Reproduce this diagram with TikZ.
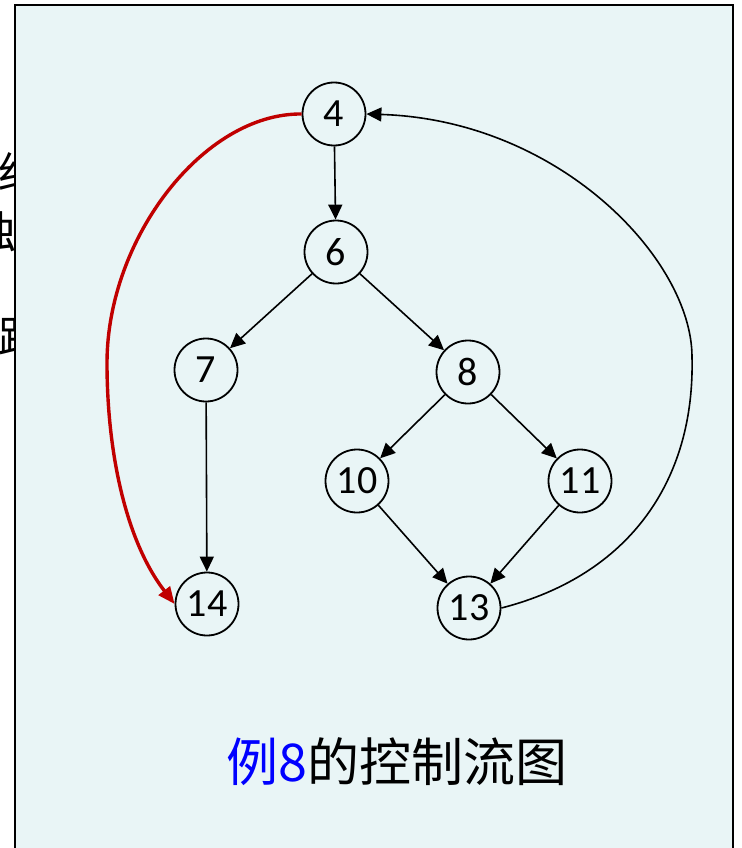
\documentclass[tikz,border=0pt]{standalone}
\usepackage{fontspec}
\setmainfont{Carlito}
\newfontfamily\cjk{Noto Sans CJK SC}
\usetikzlibrary{positioning,arrows.meta}
\definecolor{panelbg}{RGB}{233,245,246}
\definecolor{backred}{RGB}{192,0,0}
\definecolor{capblue}{RGB}{0,0,255}
\begin{document}
\begin{tikzpicture}[x=1pt,y=-1pt]
                    \tikzstyle{every node}=[inner sep=0]
                    \tikzstyle{block}=[draw,circle,minimum size=63,line width=1.8,font=\fontsize{40}{42}\selectfont]
                    \tikzstyle{flow}=[-{Triangle[length=15pt,width=14pt]},line width=1.6]
                    \tikzstyle{cut}=[font=\cjk\fontsize{44}{48}\selectfont]
                    \useasboundingbox (0,0) rectangle (741,848);
                    {
                        % text left over behind the panel
                        \node[cut,anchor=west] (line1) at (-2,172) {经};
                        \node[cut,anchor=east] (line2) at (17,232) {独};
                        \node[cut,anchor=west] (line3) at (-2,337) {路};

                        \draw[fill=panelbg,line width=2] (15,5) rectangle (733,870);

                        \node[block] (n4) at (334,114) {4};
                        \node[block] (n6) at (336,252) {6};
                        \node[block] (n7) at (206,370) {7};
                        \node[block] (n8) at (468,372) {8};
                        \node[block] (n10) at (357,481) {10};
                        \node[block] (n11) at (580,481) {11};
                        \node[block] (n13) at (469,608) {13};
                        \node[block] (n14) at (207,604) {14};

                        \path[flow]
                            (n4) edge (n6)
                            (n6) edge (n7)
                            (n6) edge (n8)
                            (n7) edge (n14)
                            (n8) edge (n10)
                            (n8) edge (n11)
                            (n10) edge (n13)
                            (n11) edge (n13);

                        \draw[flow] (n13.east) .. controls (630,575) and (695,480) .. (692,357)
                            .. controls (692,260) and (560,120) .. (n4.east);
                        \draw[backred,line width=3.4,-{Triangle[length=17pt,width=14pt]}]
                            (n4.west) .. controls (204,113) and (107,238) .. (107,363)
                            .. controls (107,450) and (125,540) .. (n14.west);

                        \node[anchor=base,font=\cjk\fontsize{52}{56}\selectfont] (caption) at (397,781)
                            {\textcolor{capblue}{例8}的控制流图};
                    }
                \end{tikzpicture}
\end{document}
